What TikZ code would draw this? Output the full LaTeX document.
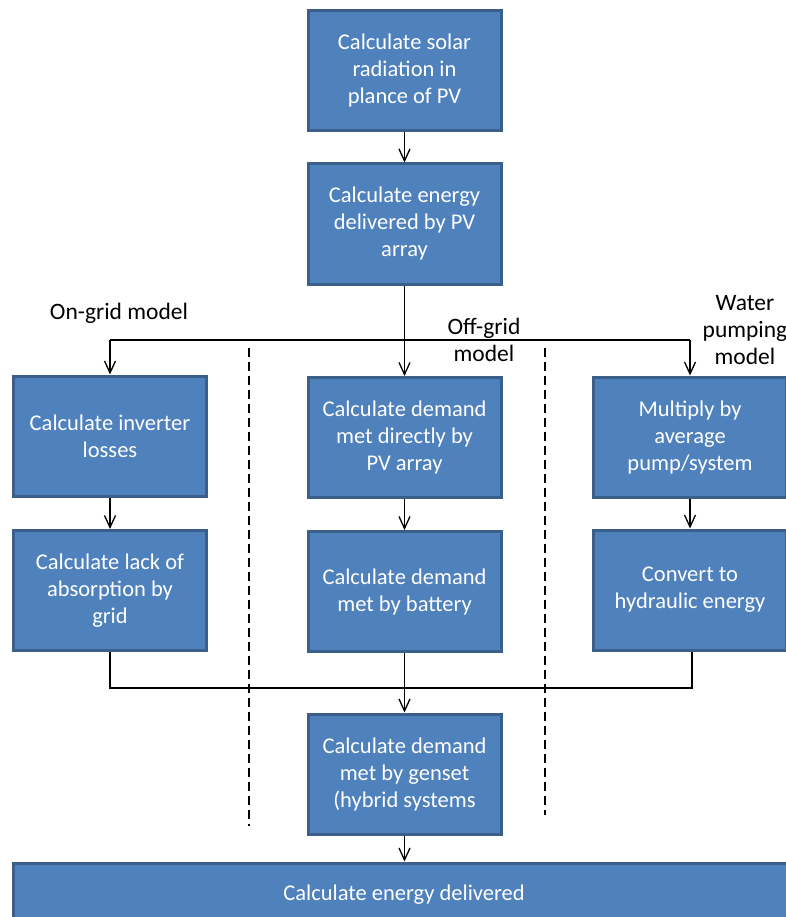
\documentclass[tikz,border=0pt]{standalone}
\usepackage{fontspec}
\setmainfont{Carlito}
\usetikzlibrary{arrows.meta}
\definecolor{boxfill}{HTML}{4F81BD}
\definecolor{boxline}{HTML}{3A5F8B}
\tikzset{
  stepbox/.style={rectangle, fill=boxfill, draw=boxline, line width=3pt,
    text=white, align=center, minimum width=193pt, minimum height=120pt,
    inner sep=2pt, font=\fontsize{22.5}{27}\selectfont},
  conn/.style={line width=1.3pt, black},
  arr/.style={conn, -{Straight Barb[length=12pt, width=11pt, line width=1.3pt]}},
  sep/.style={line width=1.3pt, dash pattern=on 9pt off 5pt},
  lbl/.style={align=center, font=\fontsize{23.5}{27}\selectfont, inner sep=0pt}
}
\begin{document}
\begin{tikzpicture}[x=1pt, y=-1pt]
\useasboundingbox (0,0) rectangle (786,917);
\clip (0,0) rectangle (786,917);
\node[stepbox] (b1) at (404.5,70.5) {Calculate solar\\radiation in\\plance of PV};
\node[stepbox] (b2) at (404.5,224) {Calculate energy\\delivered by PV\\array};
\node[stepbox] (l1) at (110,436) {Calculate inverter\\losses};
\node[stepbox] (m1) at (404.5,437.5) {Calculate demand\\met directly by\\PV array};
\node[stepbox] (r1) at (690,437) {Multiply by\\average\\pump/system};
\node[stepbox] (l2) at (110,590.5) {Calculate lack of\\absorption by\\grid};
\node[stepbox] (m2) at (404.5,591.5) {Calculate demand\\met by battery};
\node[stepbox] (r2) at (690,590) {Convert to\\hydraulic energy};
\node[stepbox] (g) at (404.5,774) {Calculate demand\\met by genset\\(hybrid systems};
\node[stepbox, minimum width=782pt, minimum height=64pt] (bot) at (404,895) {Calculate energy delivered};

\node[lbl] (lon) at (119,313) {On-grid model};
\node[lbl] (loff) at (484,340) {Off-grid\\model};
\node[lbl] (lwat) at (745,330) {Water\\pumping\\model};

\draw[sep] (249,348) -- (249,826);
\draw[sep] (545,348) -- (545,815);

\coordinate (sl) at (110,340);
\coordinate (sr) at (690,340);
\coordinate (jl) at (110,688);
\coordinate (jr) at (692,688);
\draw[arr] (b1.south) -- (b2.north);
\draw[arr] (b2.south) -- (m1.north);
\draw[conn] (sl) -- (sr);
\draw[arr] (sl) -- (l1.north);
\draw[arr] (sr) -- (r1.north);
\draw[arr] (l1.south) -- (l2.north);
\draw[arr] (m1.south) -- (m2.north);
\draw[arr] (r1.south) -- (r2.north);
\draw[conn] (l2.south) -- (jl) -- (jr) -- (r2.south -| jr);
\draw[arr] (m2.south) -- (g.north);
\draw[arr] (g.south) -- (bot.north -| g.south);
\end{tikzpicture}
\end{document}
